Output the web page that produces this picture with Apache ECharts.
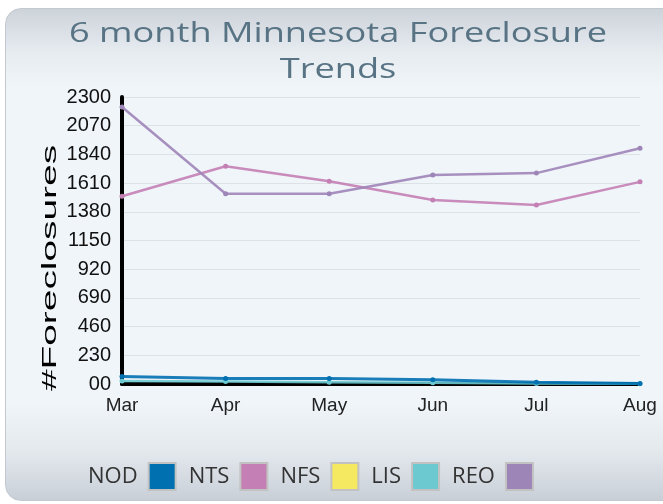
<!DOCTYPE html>
<html>
<head>
<meta charset="utf-8">
<script src="https://cdn.jsdelivr.net/npm/echarts@6/dist/echarts.min.js"></script>
<style>
	html,body{margin:0;padding:0;background:#fff;}
	#panel{position:absolute;left:5px;top:8px;width:700px;height:491px;border:1px solid #c3c9d0;border-radius:16px;
		background:linear-gradient(to bottom,#cdd3da 0%,#e7ecf1 9%,#f0f5f9 16%,#f0f5f9 80%,#e4e9ee 90%,#c9cfd7 100%);}
	#chart{position:absolute;left:0;top:0;width:663px;height:504px;}
</style>
</head>
<body>
<div id="panel"></div>
<div id="chart"></div>
<script>
	// months on the x axis
	var months = ["Mar","Apr","May","Jun","Jul","Aug"];
	// y tick labels as printed on the chart
	var yTickLabels = ["00","230","460","690","920","1150","1380","1610","1840","2070","2300"];
	// foreclosure counts per type
	var nod = [60,45,45,35,15,5];
	var nts = [1505,1745,1625,1475,1435,1620];
	var nfs = [0,0,0,0,0,0];
	var lis = [25,20,15,10,5,3];
	var reo = [2220,1525,1525,1675,1690,1890];

	var names = ["NOD","NTS","NFS","LIS","REO"];
	var colors = ["#0070b0","#c47fb5","#f5e961","#6cc9d0","#9e85b8"];
	var values = [nod,nts,nfs,lis,reo];

	var series = [];
	for(var i=0;i<names.length;i++){
		series.push({
			name:names[i],
			type:"line",
			data:values[i],
			symbol:"circle",
			symbolSize:5,
			showSymbol:names[i]!="NFS",
			itemStyle:{color:colors[i]},
			lineStyle:{width:i==0?3:2.5,color:colors[i],opacity:0.9},
			z:names[i]=="NFS"?-1:(i==0?4:3)
		});
	}

	var chart = echarts.init(document.getElementById("chart"));
	chart.setOption({
		backgroundColor:"transparent",
		animation:false,
		grid:{left:122,right:23,top:97,bottom:120,containLabel:false},
		graphic:[
			{type:"text",x:338,y:34,scaleX:1.34,scaleY:1,
				style:{text:"6 month Minnesota Foreclosure",fill:"#587484",font:"27px 'Open Sans'",align:"center",verticalAlign:"middle"}},
			{type:"text",x:338,y:70,scaleX:1.34,scaleY:1,
				style:{text:"Trends",fill:"#587484",font:"27px 'Open Sans'",align:"center",verticalAlign:"middle"}},
			{type:"text",x:50,y:268,rotation:Math.PI/2,scaleX:1.85,scaleY:1,
				style:{text:"#Foreclosures",fill:"#000",font:"21px 'Liberation Sans'",align:"center",verticalAlign:"middle"}}
		],
		legend:{
			left:83,top:457,
			align:"right",
			icon:"rect",
			itemWidth:27,itemHeight:27,itemGap:12,
			itemStyle:{borderColor:"#c2c2c2",borderWidth:2},
			textStyle:{fontFamily:"Open Sans",fontSize:22,color:"#333",padding:[0,6,0,0]},
			data:names
		},
		xAxis:{
			type:"category",
			data:months,
			boundaryGap:false,
			axisLine:{lineStyle:{color:"#000",width:4}},
			axisTick:{show:false},
			axisLabel:{color:"#222",fontFamily:"Liberation Sans",fontSize:19,margin:12},
			splitLine:{show:false}
		},
		yAxis:{
			type:"value",
			min:0,max:2300,interval:230,
			axisLine:{show:true,lineStyle:{color:"#000",width:4}},
			axisTick:{show:false},
			axisLabel:{color:"#111",fontFamily:"Liberation Sans",fontSize:20,margin:11,
				formatter:function(v){return yTickLabels[Math.round(v/230)];}},
			splitLine:{lineStyle:{color:"#dde2e7",width:1}}
		},
		series:series
	});
</script>
</body>
</html>
